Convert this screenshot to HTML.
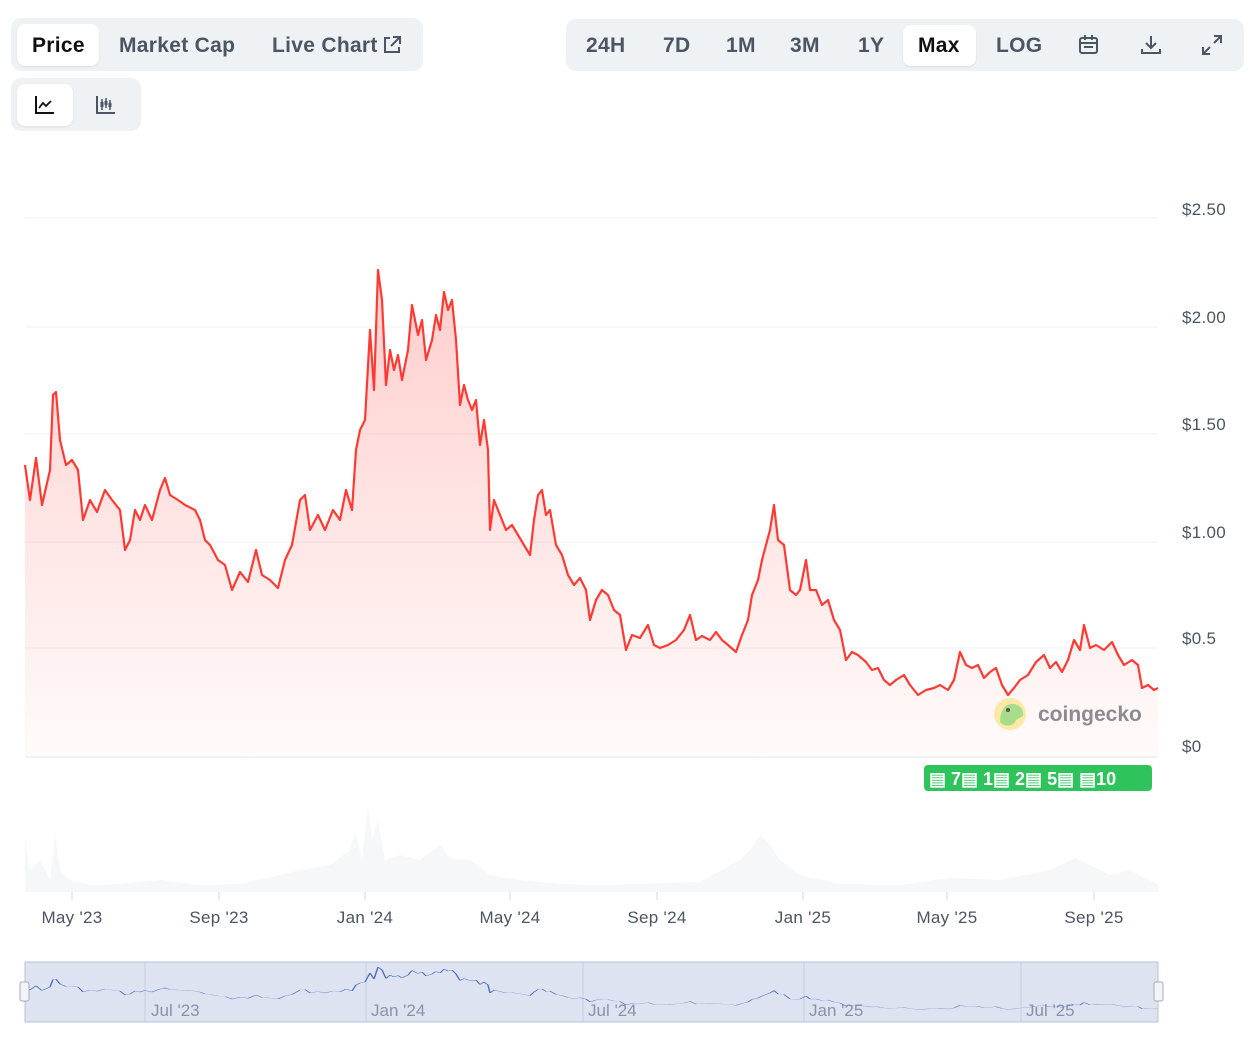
<!DOCTYPE html>
<html><head><meta charset="utf-8"><style>
body{margin:0;width:1260px;height:1044px;background:#fff;font-family:"Liberation Sans",sans-serif;position:relative;overflow:hidden}
.box{position:absolute;background:#eff2f5;border-radius:10px}
.w{position:absolute;background:#fff;border-radius:8px;box-shadow:0 1px 2px rgba(0,0,0,.08)}
.t{position:absolute;font-size:21px;letter-spacing:.3px;font-weight:bold;color:#4b5563;line-height:1}
.yl{position:absolute;font-size:17px;color:#4b5563;left:1182px;letter-spacing:.3px}
.xl{position:absolute;font-size:17px;color:#4b5563;top:908px;transform:translateX(-50%);letter-spacing:.3px}
</style></head><body>
<div class="box" style="left:11px;top:18px;width:412px;height:53px"></div>
<div class="w" style="left:17px;top:24px;width:82px;height:42px"></div>
<div class="t" style="left:32px;top:35px;color:#111">Price</div>
<div class="t" style="left:119px;top:35px">Market Cap</div>
<div class="t" style="left:272px;top:35px">Live Chart</div>
<svg style="position:absolute;left:382px;top:35px" width="20" height="20"><path d="M8 3H3V17H17V12" stroke="#4b5563" stroke-width="2" fill="none"/><path d="M11 2H18V9M18 2L9 11" stroke="#4b5563" stroke-width="2" fill="none"/></svg>
<div class="box" style="left:11px;top:78px;width:130px;height:53px"></div>
<div class="w" style="left:17px;top:84px;width:56px;height:42px"></div>
<svg style="position:absolute;left:34px;top:94px" width="22" height="22"><path d="M2 2V19H20" stroke="#111" stroke-width="2" fill="none"/><path d="M5 14L9 9L12 12L17 7" stroke="#111" stroke-width="1.8" fill="none"/></svg>
<svg style="position:absolute;left:95px;top:94px" width="22" height="22"><path d="M2 2V19H20" stroke="#4b5563" stroke-width="2" fill="none"/><path d="M7 5V16M11 4V14M15 6V16" stroke="#4b5563" stroke-width="1.5"/><rect x="5.5" y="8" width="3" height="5" fill="#4b5563"/><rect x="9.5" y="7" width="3" height="4" fill="#4b5563"/><rect x="13.5" y="9" width="3" height="4" fill="#4b5563"/></svg>
<div class="box" style="left:566px;top:19px;width:678px;height:52px"></div>
<div class="w" style="left:903px;top:25px;width:73px;height:41px"></div>
<div class="t" style="left:586px;top:35px">24H</div>
<div class="t" style="left:663px;top:35px">7D</div>
<div class="t" style="left:726px;top:35px">1M</div>
<div class="t" style="left:790px;top:35px">3M</div>
<div class="t" style="left:858px;top:35px">1Y</div>
<div class="t" style="left:918px;top:35px;color:#111">Max</div>
<div class="t" style="left:996px;top:35px">LOG</div>
<svg style="position:absolute;left:1078px;top:34px" width="22" height="22"><rect x="2" y="4" width="17" height="15" rx="2" stroke="#4b5563" stroke-width="2" fill="none"/><path d="M2 9H19M7 1V6M14 1V6" stroke="#4b5563" stroke-width="2"/><rect x="6" y="12" width="9" height="2" fill="#4b5563"/></svg>
<svg style="position:absolute;left:1140px;top:34px" width="22" height="22"><path d="M11 2V14M6 9L11 14L16 9M2 15V19H20V15" stroke="#4b5563" stroke-width="2" fill="none"/></svg>
<svg style="position:absolute;left:1201px;top:34px" width="22" height="22"><path d="M13 2H20V9M20 2L13 9M9 20H2V13M2 20L9 13" stroke="#4b5563" stroke-width="2" fill="none"/></svg>

<div class="yl" style="top:200px">$2.50</div>
<div class="yl" style="top:308px">$2.00</div>
<div class="yl" style="top:415px">$1.50</div>
<div class="yl" style="top:523px">$1.00</div>
<div class="yl" style="top:629px">$0.5</div>
<div class="yl" style="top:737px">$0</div>

<svg style="position:absolute;left:0;top:0" width="1260" height="1044">
<defs><linearGradient id="g" x1="0" y1="0" x2="0" y2="1"><stop offset="0" stop-color="#ff3a33" stop-opacity=".25"/><stop offset="1" stop-color="#ff3a33" stop-opacity=".02"/></linearGradient>
<path id="p" d="M25,465 30,500 36,458 42,505 50,470 53,395 56,392 60,440 66,465 72,460 78,470 83,520 90,500 97,512 105,490 112,500 120,510 125,550 130,540 135,510 140,520 145,505 152,520 160,490 165,478 170,495 178,500 185,505 195,510 200,520 205,540 210,545 218,560 225,565 232,590 240,572 248,582 256,550 262,575 270,580 278,588 285,560 292,545 300,500 305,495 310,530 318,515 325,530 333,510 340,520 346,490 352,510 356,450 360,430 365,420 370,330 374,390 378,270 382,300 386,385 390,350 394,370 398,355 402,380 408,350 412,305 418,335 422,320 426,360 432,340 436,315 440,330 444,292 448,310 452,300 456,340 460,405 464,385 468,400 472,410 476,400 480,445 484,420 488,450 490,530 494,500 500,515 506,530 512,525 518,535 524,545 530,555 534,520 538,495 542,490 546,515 550,510 556,545 562,555 568,575 574,585 580,578 586,590 590,620 596,600 602,590 608,595 614,610 620,615 626,650 632,635 640,638 648,625 654,645 660,648 668,645 676,640 684,630 690,615 696,640 702,636 710,640 716,632 722,640 728,645 736,652 742,635 748,620 752,595 758,580 762,560 766,545 770,530 774,505 778,540 784,545 790,590 796,595 800,590 806,560 810,590 816,590 822,605 828,600 834,620 840,630 846,660 852,652 858,655 866,662 872,670 878,668 884,680 890,685 896,680 904,675 910,685 918,695 926,690 934,688 940,685 948,690 954,680 960,652 966,665 972,668 978,665 984,678 990,672 996,668 1002,685 1008,695 1014,688 1020,680 1028,675 1036,662 1044,655 1050,668 1056,662 1062,672 1068,660 1074,640 1080,650 1084,625 1090,648 1096,645 1104,650 1112,642 1118,655 1124,665 1132,660 1138,665 1142,688 1148,685 1154,690 1158,688" fill="none"/></defs>
<g stroke="#eef0f3" stroke-width="1"><path d="M25 218H1158M25 327H1158M25 434H1158M25 542H1158M25 648H1158"/></g>
<path d="M25 757H1158" stroke="#e2e8f0"/>
<use href="#p" stroke="#ff3a33" stroke-width="2.2" stroke-linejoin="round"/>
<path d="M25,757 L25,465 30,500 36,458 42,505 50,470 53,395 56,392 60,440 66,465 72,460 78,470 83,520 90,500 97,512 105,490 112,500 120,510 125,550 130,540 135,510 140,520 145,505 152,520 160,490 165,478 170,495 178,500 185,505 195,510 200,520 205,540 210,545 218,560 225,565 232,590 240,572 248,582 256,550 262,575 270,580 278,588 285,560 292,545 300,500 305,495 310,530 318,515 325,530 333,510 340,520 346,490 352,510 356,450 360,430 365,420 370,330 374,390 378,270 382,300 386,385 390,350 394,370 398,355 402,380 408,350 412,305 418,335 422,320 426,360 432,340 436,315 440,330 444,292 448,310 452,300 456,340 460,405 464,385 468,400 472,410 476,400 480,445 484,420 488,450 490,530 494,500 500,515 506,530 512,525 518,535 524,545 530,555 534,520 538,495 542,490 546,515 550,510 556,545 562,555 568,575 574,585 580,578 586,590 590,620 596,600 602,590 608,595 614,610 620,615 626,650 632,635 640,638 648,625 654,645 660,648 668,645 676,640 684,630 690,615 696,640 702,636 710,640 716,632 722,640 728,645 736,652 742,635 748,620 752,595 758,580 762,560 766,545 770,530 774,505 778,540 784,545 790,590 796,595 800,590 806,560 810,590 816,590 822,605 828,600 834,620 840,630 846,660 852,652 858,655 866,662 872,670 878,668 884,680 890,685 896,680 904,675 910,685 918,695 926,690 934,688 940,685 948,690 954,680 960,652 966,665 972,668 978,665 984,678 990,672 996,668 1002,685 1008,695 1014,688 1020,680 1028,675 1036,662 1044,655 1050,668 1056,662 1062,672 1068,660 1074,640 1080,650 1084,625 1090,648 1096,645 1104,650 1112,642 1118,655 1124,665 1132,660 1138,665 1142,688 1148,685 1154,690 1158,688 L1158,757Z" fill="url(#g)"/>
<!-- volume -->
<path d="M25,892 L25,840 30,870 40,860 50,880 55,835 60,870 70,880 90,885 120,884 160,880 200,885 240,884 280,875 300,870 330,865 350,850 355,830 362,860 368,805 372,840 378,820 385,860 400,855 420,860 440,845 450,858 470,860 490,875 520,880 560,884 600,885 640,884 700,882 740,860 750,850 760,835 770,845 780,860 800,875 840,884 900,885 950,878 1000,880 1050,870 1075,858 1090,865 1110,875 1130,870 1145,878 1158,884 1158,892Z" fill="#e5e7eb" opacity=".35"/>
<g stroke="#d1d5db"><path d="M72 892V900M219 892V900M365 892V900M510 892V900M657 892V900M803 892V900M947 892V900M1094 892V900"/></g>
<!-- navigator -->
<rect x="25" y="962" width="1133" height="60" fill="#dde3f1" stroke="#b8c2d8"/>
<g stroke="#c5cde0"><path d="M145 962V1022M366 962V1022M583 962V1022M804 962V1022M1021 962V1022"/></g>
<g fill="#8a93a6" font-size="17" font-family="Liberation Sans"><text x="151" y="1016">Jul '23</text><text x="371" y="1016">Jan '24</text><text x="588" y="1016">Jul '24</text><text x="809" y="1016">Jan '25</text><text x="1026" y="1016">Jul '25</text></g>
<use href="#p" transform="translate(0,940) scale(1,0.1)" stroke="#4c6bc2" stroke-width="1.5" vector-effect="non-scaling-stroke"/>
<rect x="20" y="982" width="9" height="19" rx="2" fill="#f3f4f6" stroke="#aab"/><rect x="1154" y="982" width="9" height="19" rx="2" fill="#f3f4f6" stroke="#aab"/>
<!-- logo -->
<circle cx="1010" cy="714" r="16" fill="#fbe9a6"/><path d="M1000 722C1000 712 1004 704 1012 704C1020 704 1024 710 1023 716L1016 720C1014 726 1006 728 1000 722Z" fill="#a7dc8b"/><circle cx="1008" cy="710" r="2" fill="#555"/>
<text x="1038" y="721" font-size="21" font-weight="bold" fill="#8b8b90" font-family="Liberation Sans">coingecko</text>
<!-- news -->
<rect x="924" y="765" width="228" height="26" rx="4" fill="#2fc35b"/>
<g fill="#fff" font-size="18" font-weight="bold" font-family="Liberation Sans"><text x="929" y="785">▤ 7▤ 1▤ 2▤ 5▤ ▤10</text></g>
</svg>
<div class="xl" style="left:72px">May '23</div>
<div class="xl" style="left:219px">Sep '23</div>
<div class="xl" style="left:365px">Jan '24</div>
<div class="xl" style="left:510px">May '24</div>
<div class="xl" style="left:657px">Sep '24</div>
<div class="xl" style="left:803px">Jan '25</div>
<div class="xl" style="left:947px">May '25</div>
<div class="xl" style="left:1094px">Sep '25</div>
</body></html>
